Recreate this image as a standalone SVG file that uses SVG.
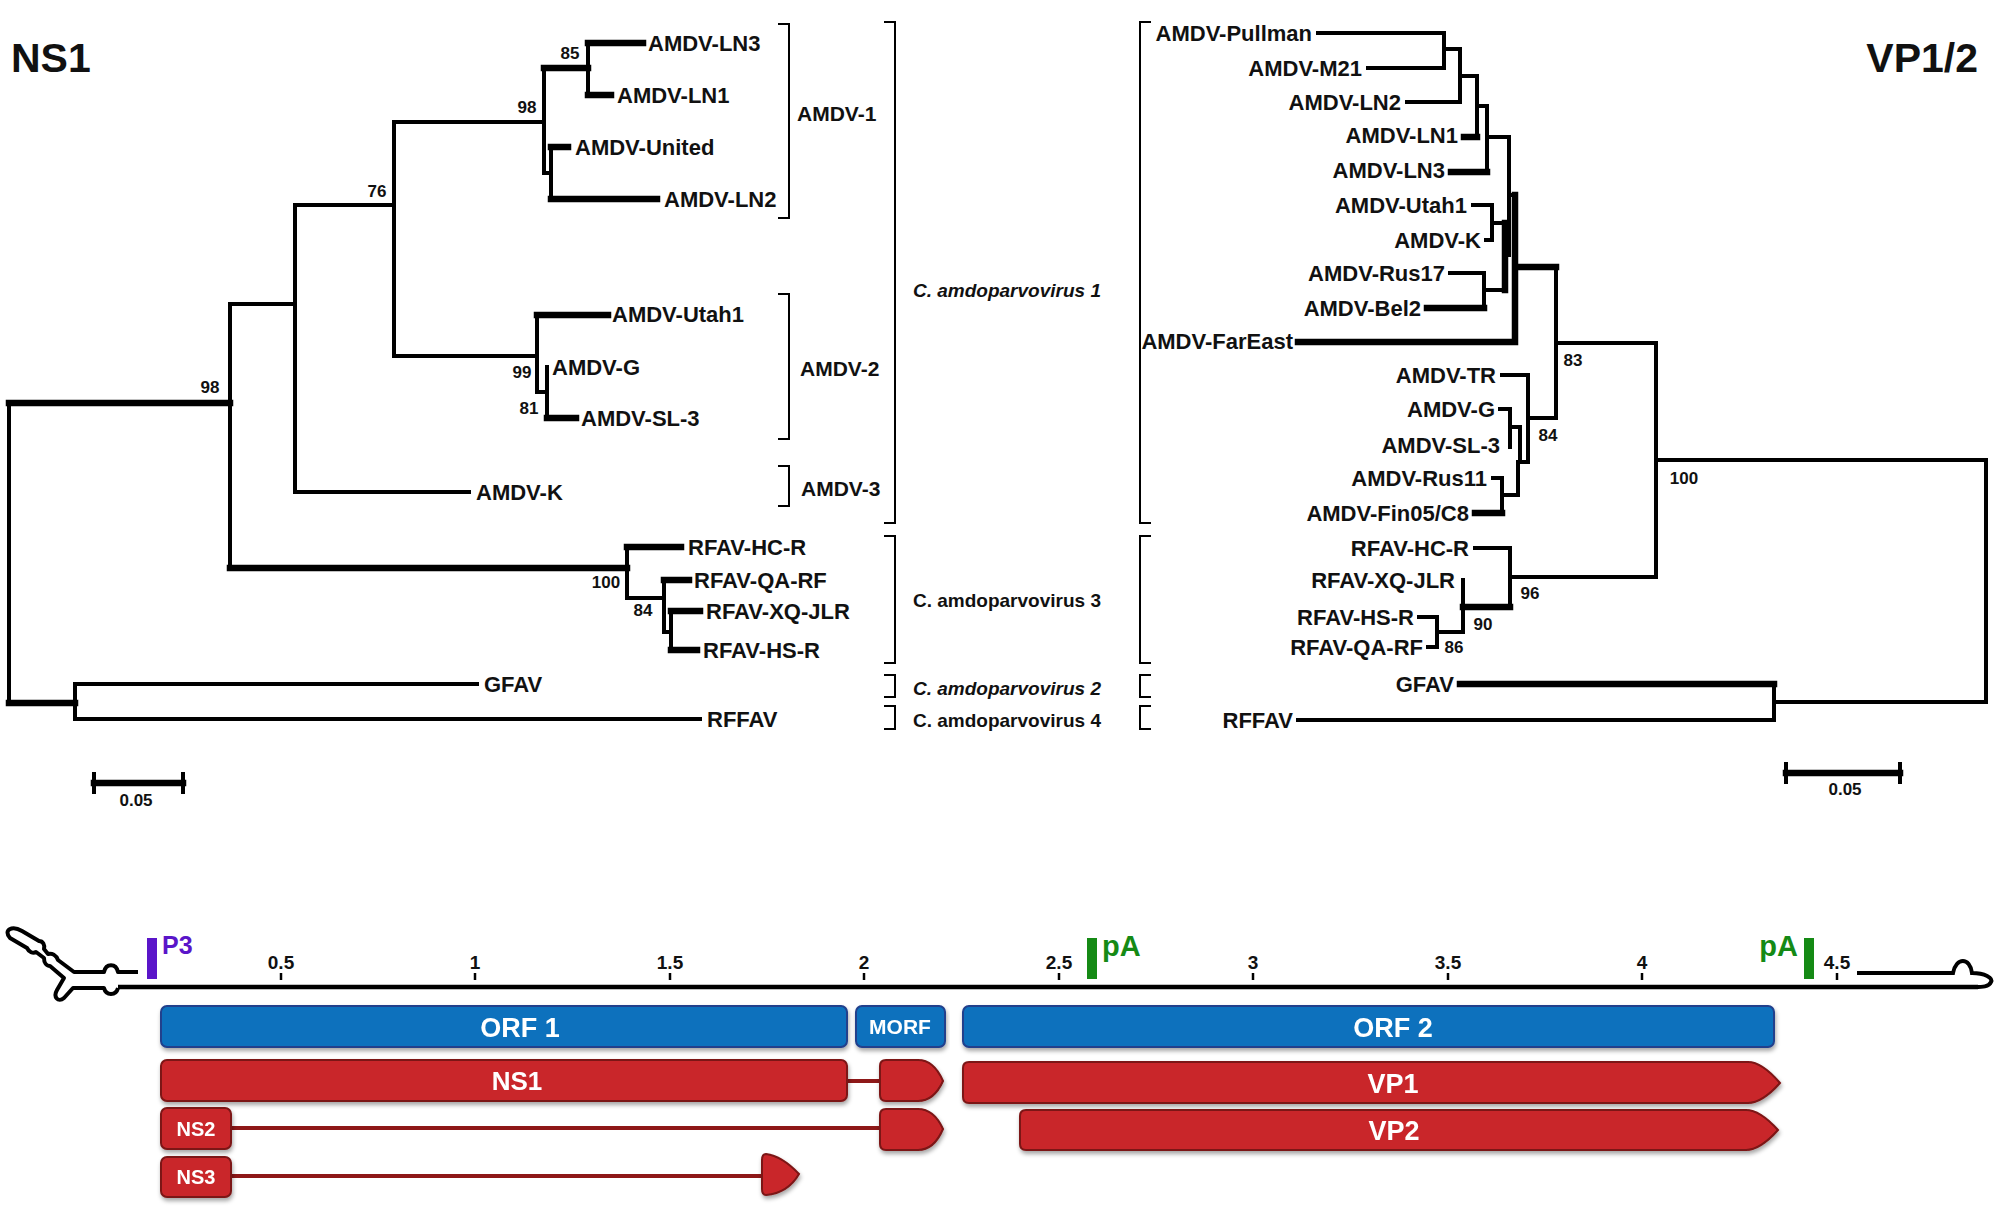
<svg xmlns="http://www.w3.org/2000/svg" width="2000" height="1208" viewBox="0 0 2000 1208">
<style>
text{font-family:"Liberation Sans",Arial,sans-serif;font-weight:bold;fill:#111}
.lf{font-size:22px}
.bs{font-size:17px}
.ttl{font-size:41px}
.grp{font-size:21px}
.sp{font-size:19px}
.it{font-style:italic}
.end{text-anchor:end}
.mid{text-anchor:middle}
.br{stroke:#000;stroke-width:4;fill:none;stroke-linecap:square}
.tk{stroke:#000;stroke-width:6.5;fill:none;stroke-linecap:square}
.bk{stroke:#000;stroke-width:2;fill:none}
.tick{stroke:#000;stroke-width:2.5}
.orf{fill:#0b71bd;stroke:#203f8c;stroke-width:2}
.prot{fill:#c9282c;stroke:#7c1414;stroke-width:2}
.wt{fill:#fff;text-anchor:middle}
.lnk{stroke:#8e1818;stroke-width:4}
.tl{font-size:19px;text-anchor:middle}
.pa{fill:#158a15}
</style>
<defs>
<filter id="sh" x="-5%" y="-20%" width="110%" height="160%">
<feDropShadow dx="1" dy="3" stdDeviation="2" flood-color="#000" flood-opacity="0.35"/>
</filter>
</defs>

<!-- Titles -->
<text x="11" y="72" class="ttl">NS1</text>
<text x="1978" y="72" class="ttl end">VP1/2</text>

<!-- NS1 tree connectors -->
<g id="ns1-connectors">
<path class="br" d="M9 403 V703"/>
<path class="tk" d="M9 403 H230"/>
<path class="br" d="M230 304 V568 M230 304 H295"/>
<path class="tk" d="M230 568 H627"/>
<path class="br" d="M295 205 V492 M295 205 H394 M295 492 H469"/>
<path class="br" d="M394 122 V356 M394 122 H544 M394 356 H537"/>
<path class="br" d="M544 68 V173 M544 173 H551"/>
<path class="tk" d="M544 68 H588"/>
<path class="br" d="M588 43 V95"/>
<path class="tk" d="M588 43 H643 M588 95 H611"/>
<path class="br" d="M551 147 V199"/>
<path class="tk" d="M551 147 H568 M551 199 H657"/>
<path class="br" d="M537 315 V392 M537 392 H547 M547 367 V418"/>
<path class="tk" d="M537 315 H608 M547 418 H576"/>
<path class="br" d="M627 547 V598 M627 598 H664 M664 580 V632 M664 632 H671 M671 611 V650"/>
<path class="tk" d="M627 547 H681 M664 580 H689 M671 611 H700 M671 650 H697"/>
<path class="tk" d="M9 703 H75"/>
<path class="br" d="M75 684 V719 M75 684 H477 M75 719 H700"/>
<path class="tk" d="M94 783 H183"/>
<path class="br" d="M94 774 V792 M183 774 V792"/>
</g>

<!-- NS1 leaves -->
<g id="ns1-leaves">
<text id="ns1-ln3" x="648" y="51" class="lf">AMDV-LN3</text>
<text id="ns1-ln1" x="617" y="103" class="lf">AMDV-LN1</text>
<text id="ns1-united" x="575" y="155" class="lf">AMDV-United</text>
<text id="ns1-ln2" x="664" y="207" class="lf">AMDV-LN2</text>
<text id="ns1-utah1" x="612" y="322" class="lf">AMDV-Utah1</text>
<text id="ns1-g" x="552" y="375" class="lf">AMDV-G</text>
<text id="ns1-sl3" x="581" y="426" class="lf">AMDV-SL-3</text>
<text id="ns1-k" x="476" y="500" class="lf">AMDV-K</text>
<text id="ns1-hcr" x="688" y="555" class="lf">RFAV-HC-R</text>
<text id="ns1-qarf" x="694" y="588" class="lf">RFAV-QA-RF</text>
<text id="ns1-xqjlr" x="706" y="619" class="lf">RFAV-XQ-JLR</text>
<text id="ns1-hsr" x="703" y="658" class="lf">RFAV-HS-R</text>
<text id="ns1-gfav" x="484" y="692" class="lf">GFAV</text>
<text id="ns1-rffav" x="707" y="727" class="lf">RFFAV</text>
<text x="136" y="806" class="bs mid">0.05</text>
</g>

<!-- NS1 bootstrap -->
<g id="ns1-bootstrap">
<text x="570" y="59" class="bs mid">85</text>
<text x="527" y="113" class="bs mid">98</text>
<text x="377" y="197" class="bs mid">76</text>
<text x="210" y="393" class="bs mid">98</text>
<text x="522" y="378" class="bs mid">99</text>
<text x="529" y="414" class="bs mid">81</text>
<text x="606" y="588" class="bs mid">100</text>
<text x="643" y="616" class="bs mid">84</text>
</g>

<!-- Brackets middle -->
<g id="brackets">
<path class="bk" d="M778 24 H789 V218 H778"/>
<path class="bk" d="M778 294 H789 V439 H778"/>
<path class="bk" d="M778 466 H789 V506 H778"/>
<path class="bk" d="M884 22 H895 V523 H884"/>
<path class="bk" d="M884 536 H895 V663 H884"/>
<path class="bk" d="M884 675 H895 V697 H884"/>
<path class="bk" d="M884 706 H895 V729 H884"/>
<path class="bk" d="M1151 22 H1140 V523 H1151"/>
<path class="bk" d="M1151 536 H1140 V663 H1151"/>
<path class="bk" d="M1151 675 H1140 V697 H1151"/>
<path class="bk" d="M1151 706 H1140 V729 H1151"/>
</g>
<g id="group-labels">
<text x="797" y="121" class="grp">AMDV-1</text>
<text x="800" y="376" class="grp">AMDV-2</text>
<text x="801" y="496" class="grp">AMDV-3</text>
<text x="913" y="297" class="sp it">C. amdoparvovirus 1</text>
<text x="913" y="607" class="sp">C. amdoparvovirus 3</text>
<text x="913" y="695" class="sp it">C. amdoparvovirus 2</text>
<text x="913" y="727" class="sp">C. amdoparvovirus 4</text>
</g>

<!-- VP tree connectors -->
<g id="vp-connectors">
<path class="br" d="M1318 33 H1444 M1368 68 H1444 M1444 33 V68 M1444 49 H1460"/>
<path class="br" d="M1460 49 V102 M1407 102 H1460 M1460 76 H1477 M1477 76 V137"/>
<path class="tk" d="M1464 137 H1477"/>
<path class="br" d="M1477 106 H1487 M1487 106 V172 M1487 137 H1509 M1509 137 V255"/>
<path class="tk" d="M1451 172 H1487"/>
<path class="br" d="M1473 205 H1492 M1492 205 V240 M1486 240 H1492 M1492 223 H1505 M1505 255 H1509"/>
<path class="tk" d="M1505 223 V290"/>
<path class="br" d="M1450 273 H1484 M1484 273 V308 M1484 290 H1505"/>
<path class="tk" d="M1427 308 H1484"/>
<path class="br" d="M1509 195 H1515"/>
<path class="tk" d="M1515 195 V342 M1298 342 H1515 M1515 267 H1556"/>
<path class="br" d="M1556 267 V418 M1556 343 H1656 M1656 343 V577"/>
<path class="br" d="M1502 375 H1528 M1528 375 V462 M1528 418 H1556"/>
<path class="br" d="M1500 409 H1510 M1510 409 V447 M1510 427 H1520 M1520 427 V462 M1518 462 H1528 M1518 462 V495"/>
<path class="br" d="M1493 478 H1502 M1502 478 V513 M1502 495 H1518"/>
<path class="tk" d="M1475 513 H1502"/>
<path class="br" d="M1656 460 H1986 M1986 460 V702 M1774 702 H1986"/>
<path class="br" d="M1475 548 H1510 M1510 548 V607 M1510 577 H1656"/>
<path class="br" d="M1463 580 V632"/>
<path class="tk" d="M1463 607 H1510"/>
<path class="br" d="M1419 617 H1437 M1437 617 V647 M1428 647 H1437 M1437 632 H1463"/>
<path class="tk" d="M1460 684 H1774"/>
<path class="br" d="M1774 684 V720 M1298 720 H1774"/>
<path class="tk" d="M1786 773 H1900"/>
<path class="br" d="M1786 764 V782 M1900 764 V782"/>
</g>

<!-- VP leaves -->
<g id="vp-leaves">
<text id="vp-pullman" x="1312" y="41" class="lf end">AMDV-Pullman</text>
<text id="vp-m21" x="1362" y="76" class="lf end">AMDV-M21</text>
<text id="vp-ln2" x="1401" y="110" class="lf end">AMDV-LN2</text>
<text id="vp-ln1" x="1458" y="143" class="lf end">AMDV-LN1</text>
<text id="vp-ln3" x="1445" y="178" class="lf end">AMDV-LN3</text>
<text id="vp-utah1" x="1467" y="213" class="lf end">AMDV-Utah1</text>
<text id="vp-k" x="1481" y="248" class="lf end">AMDV-K</text>
<text id="vp-rus17" x="1445" y="281" class="lf end">AMDV-Rus17</text>
<text id="vp-bel2" x="1421" y="316" class="lf end">AMDV-Bel2</text>
<text id="vp-fareast" x="1293" y="349" class="lf end">AMDV-FarEast</text>
<text id="vp-tr" x="1496" y="383" class="lf end">AMDV-TR</text>
<text id="vp-g" x="1495" y="417" class="lf end">AMDV-G</text>
<text id="vp-sl3" x="1500" y="453" class="lf end">AMDV-SL-3</text>
<text id="vp-rus11" x="1487" y="486" class="lf end">AMDV-Rus11</text>
<text id="vp-fin05" x="1469" y="521" class="lf end">AMDV-Fin05/C8</text>
<text id="vp-hcr" x="1469" y="556" class="lf end">RFAV-HC-R</text>
<text id="vp-xqjlr" x="1455" y="588" class="lf end">RFAV-XQ-JLR</text>
<text id="vp-hsr" x="1414" y="625" class="lf end">RFAV-HS-R</text>
<text id="vp-qarf" x="1423" y="655" class="lf end">RFAV-QA-RF</text>
<text id="vp-gfav" x="1454" y="692" class="lf end">GFAV</text>
<text id="vp-rffav" x="1293" y="728" class="lf end">RFFAV</text>
<text x="1845" y="795" class="bs mid">0.05</text>
</g>

<!-- VP bootstrap -->
<g id="vp-bootstrap">
<text x="1573" y="366" class="bs mid">83</text>
<text x="1548" y="441" class="bs mid">84</text>
<text x="1684" y="484" class="bs mid">100</text>
<text x="1530" y="599" class="bs mid">96</text>
<text x="1483" y="630" class="bs mid">90</text>
<text x="1454" y="653" class="bs mid">86</text>
</g>

<!-- Genome map -->
<g id="genome-axis">
<path d="M118 987 H1978" stroke="#000" stroke-width="4.5" fill="none"/>
<path d="M138 972 L118 972 C116 963 106 963 104 972 L74 972 L58 960 C56 955 52 953 48 954 L44 949 C45 945 43 941 39 941 L22 931 C12 925 3 930 10 938 L27 948 C29 952 33 954 36 952 L44 958 C44 962 46 966 50 966 L64 978 L57 990 C53 997 58 1003 64 998 L73 988 L104 988 C106 996 116 996 118 988" stroke="#000" stroke-width="4" fill="none" stroke-linejoin="round"/>
<path d="M1857 973 L1953 973 C1956 957 1970 957 1972 973 C1985 973 1993 978 1991 982 C1989 987 1982 987 1975 987" stroke="#000" stroke-width="4" fill="none"/>
<g id="ticks">
<line class="tick" x1="281" y1="973" x2="281" y2="980"/>
<line class="tick" x1="475" y1="973" x2="475" y2="980"/>
<line class="tick" x1="670" y1="973" x2="670" y2="980"/>
<line class="tick" x1="864" y1="973" x2="864" y2="980"/>
<line class="tick" x1="1059" y1="973" x2="1059" y2="980"/>
<line class="tick" x1="1253" y1="973" x2="1253" y2="980"/>
<line class="tick" x1="1448" y1="973" x2="1448" y2="980"/>
<line class="tick" x1="1642" y1="973" x2="1642" y2="980"/>
<line class="tick" x1="1837" y1="973" x2="1837" y2="980"/>
<text x="281" y="969" class="tl">0.5</text>
<text x="475" y="969" class="tl">1</text>
<text x="670" y="969" class="tl">1.5</text>
<text x="864" y="969" class="tl">2</text>
<text x="1059" y="969" class="tl">2.5</text>
<text x="1253" y="969" class="tl">3</text>
<text x="1448" y="969" class="tl">3.5</text>
<text x="1642" y="969" class="tl">4</text>
<text x="1837" y="969" class="tl">4.5</text>
</g>
</g>
<g id="p3">
<rect x="147" y="938" width="10" height="41" fill="#5a15c9"/>
<text x="162" y="954" style="font-size:25px;fill:#5a15c9">P3</text>
</g>
<g id="pA1">
<rect x="1087" y="938" width="10" height="41" class="pa"/>
<text x="1102" y="956" style="font-size:29px;fill:#158a15">pA</text>
</g>
<g id="pA2">
<rect x="1804" y="938" width="10" height="41" class="pa"/>
<text x="1798" y="956" style="font-size:29px;fill:#158a15;text-anchor:end">pA</text>
</g>

<g id="orf1" filter="url(#sh)">
<rect x="161" y="1006" width="686" height="41" rx="6" class="orf"/>
<text x="520" y="1037" class="wt" style="font-size:27px">ORF 1</text>
</g>
<g id="morf" filter="url(#sh)">
<rect x="856" y="1006" width="89" height="41" rx="6" class="orf"/>
<text x="900" y="1034" class="wt" style="font-size:21px">MORF</text>
</g>
<g id="orf2" filter="url(#sh)">
<rect x="963" y="1006" width="811" height="41" rx="6" class="orf"/>
<text x="1393" y="1037" class="wt" style="font-size:27px">ORF 2</text>
</g>

<g id="connectors-map">
<line class="lnk" x1="846" y1="1081" x2="882" y2="1081"/>
<line class="lnk" x1="230" y1="1128" x2="882" y2="1128"/>
<line class="lnk" x1="230" y1="1176" x2="764" y2="1176"/>
</g>

<g id="ns1" filter="url(#sh)">
<rect x="161" y="1060" width="686" height="41" rx="6" class="prot"/>
<path class="prot" d="M886 1060 H918 Q934 1060 943 1081 Q934 1101 918 1101 H886 Q880 1101 880 1095 V1066 Q880 1060 886 1060 Z"/>
<text x="517" y="1090" class="wt" style="font-size:26px">NS1</text>
</g>
<g id="ns2" filter="url(#sh)">
<rect x="161" y="1108" width="70" height="41" rx="6" class="prot"/>
<path class="prot" d="M886 1109 H918 Q934 1109 943 1129 Q934 1150 918 1150 H886 Q880 1150 880 1144 V1115 Q880 1109 886 1109 Z"/>
<text x="196" y="1136" class="wt" style="font-size:20px">NS2</text>
</g>
<g id="ns3" filter="url(#sh)">
<rect x="161" y="1157" width="70" height="40" rx="6" class="prot"/>
<path class="prot" d="M766 1154 Q782 1156 799 1174 Q788 1193 766 1195 Q762 1195 762 1189 V1160 Q762 1154 766 1154 Z"/>
<text x="196" y="1184" class="wt" style="font-size:20px">NS3</text>
</g>
<g id="vp1" filter="url(#sh)">
<path class="prot" d="M969 1062 H1748 Q1762 1062 1780 1083 Q1762 1103 1748 1103 H969 Q963 1103 963 1097 V1068 Q963 1062 969 1062 Z"/>
<text x="1393" y="1093" class="wt" style="font-size:27px">VP1</text>
</g>
<g id="vp2" filter="url(#sh)">
<path class="prot" d="M1026 1110 H1746 Q1760 1110 1778 1130 Q1760 1150 1746 1150 H1026 Q1020 1150 1020 1144 V1116 Q1020 1110 1026 1110 Z"/>
<text x="1394" y="1140" class="wt" style="font-size:27px">VP2</text>
</g>
</svg>
